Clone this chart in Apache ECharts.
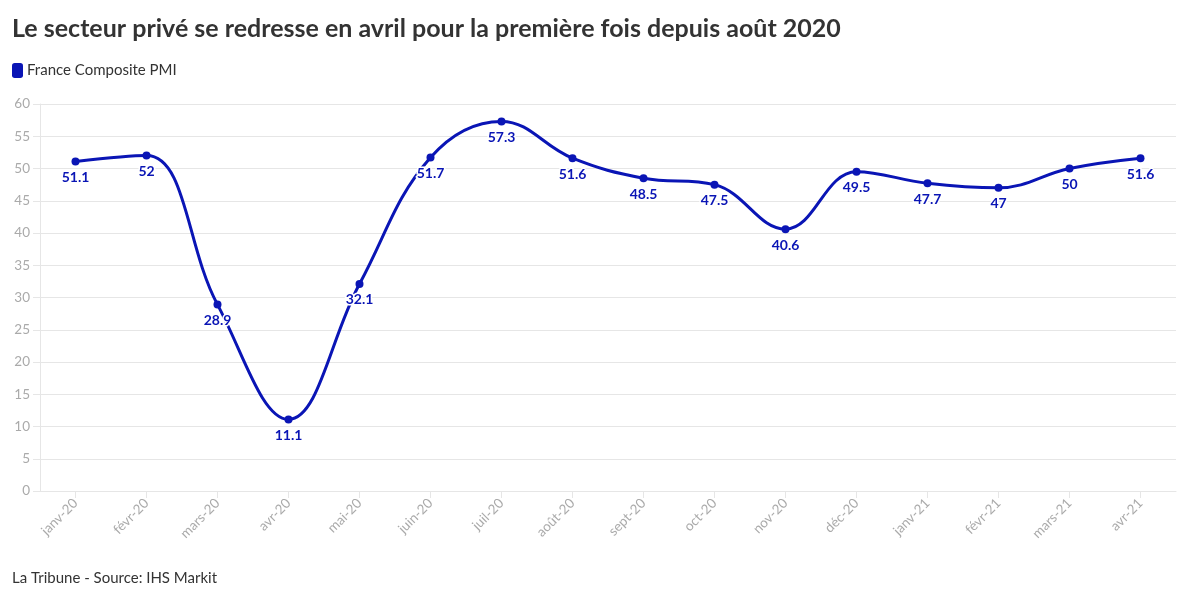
<!DOCTYPE html>
<html>
<head>
<meta charset="utf-8">
<script src="https://cdn.jsdelivr.net/npm/echarts@6/dist/echarts.min.js"></script>
<style>
html,body{margin:0;padding:0;background:#fff;}
#c{width:1200px;height:600px;}
</style>
</head>
<body>
<div id="c"></div>
<script>
const titleText = "Le secteur privé se redresse en avril pour la première fois depuis août 2020";
const seriesName = "France Composite PMI";
const footerText = "La Tribune - Source: IHS Markit";
const categories = ["janv-20","févr-20","mars-20","avr-20","mai-20","juin-20","juil-20","août-20","sept-20","oct-20","nov-20","déc-20","janv-21","févr-21","mars-21","avr-21"];
const pmiValues = [51.1, 52, 28.9, 11.1, 32.1, 51.7, 57.3, 51.6, 48.5, 47.5, 40.6, 49.5, 47.7, 47, 50, 51.6];

const FONT = '"Source Sans Pro","Lato","Noto Sans",sans-serif';
const BLUE = '#0a15b5';

const chart = echarts.init(document.getElementById('c'), null, {renderer:'canvas'});
chart.setOption({
  animation:false,
  backgroundColor:'#fff',
  title:{
    text:titleText, left:12, top:16, padding:0,
    textStyle:{fontFamily:FONT, fontSize:25, fontWeight:'bold', color:'#333'}
  },
  legend:{
    left:12, top:63, padding:0, itemWidth:11, itemHeight:15, itemGap:6,
    icon:'roundRect',
    textStyle:{fontFamily:FONT, fontSize:15, color:'#333', padding:[0,0,0,-1]},
    data:[{name:seriesName, itemStyle:{color:BLUE}}]
  },
  graphic:[{
    type:'text', left:12, top:571,
    style:{text:footerText, fontFamily:FONT, fontSize:15, fill:'#333'}
  }],
  grid:{left:40, right:24, top:104, bottom:109, containLabel:false},
  xAxis:{
    type:'category', data:categories, boundaryGap:true,
    axisLine:{show:true, lineStyle:{color:'#e6e6e6'}},
    axisTick:{show:true, alignWithLabel:true, length:7, lineStyle:{color:'#e6e6e6'}},
    axisLabel:{rotate:45, color:'#aaa', fontFamily:FONT, fontSize:13.5, margin:10, interval:0}
  },
  yAxis:{
    type:'value', min:0, max:60, interval:5,
    axisLine:{show:true, lineStyle:{color:'#e6e6e6'}},
    axisTick:{show:true, length:7, lineStyle:{color:'#e6e6e6'}},
    splitLine:{show:true, lineStyle:{color:'#e6e6e6'}},
    axisLabel:{color:'#aaa', fontFamily:FONT, fontSize:13.5, margin:10}
  },
  series:[{
    name:seriesName, type:'line', data:pmiValues,
    smooth:0.4,
    symbol:'circle', symbolSize:8,
    itemStyle:{color:BLUE},
    lineStyle:{color:BLUE, width:3},
    label:{
      show:true, position:'bottom', distance:5,
      color:BLUE, fontFamily:FONT, fontSize:14, fontWeight:'bold',
      textBorderColor:'#fff', textBorderWidth:3
    }
  }]
});
</script>
</body>
</html>
